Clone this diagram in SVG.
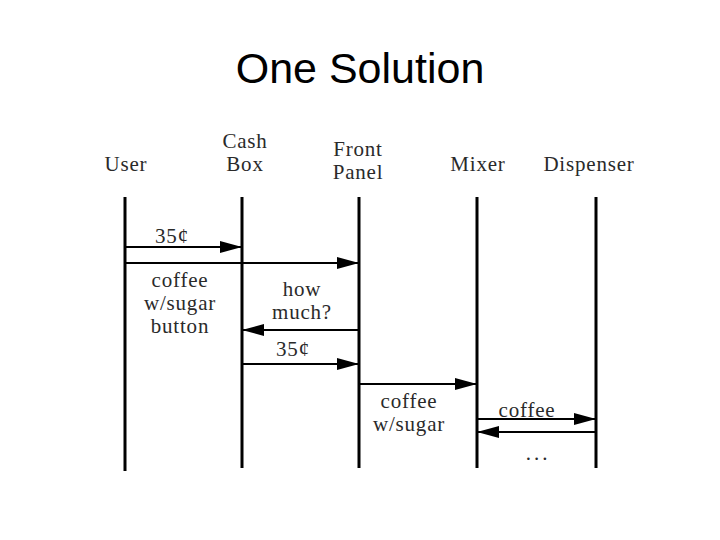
<svg xmlns="http://www.w3.org/2000/svg" width="720" height="540" viewBox="0 0 720 540">
<style>
.t{font-family:"Liberation Serif","Times New Roman",serif;font-size:21px;fill:#2a2a2a;text-anchor:middle;letter-spacing:0.8px}
.title{font-family:"Liberation Sans",Arial,sans-serif;font-size:43px;fill:#000;text-anchor:middle}
.life{stroke:#000;stroke-width:3;fill:none}
.msg{stroke:#000;stroke-width:2;fill:none;marker-end:url(#ah)}
</style>
<defs>
<marker id="ah" markerUnits="userSpaceOnUse" markerWidth="24" markerHeight="14" refX="22" refY="7" orient="auto">
<path d="M0,1 L22,7 L0,13 Z" fill="#000"/>
</marker>
</defs>
<rect width="720" height="540" fill="#fff"/>
<text class="title" x="360" y="83">One Solution</text>
<g id="user"><text class="t" x="126" y="171">User</text><line class="life" x1="125" y1="197" x2="125" y2="471"/></g>
<g id="cashbox"><text class="t" x="245" y="148">Cash</text><text class="t" x="245" y="171">Box</text><line class="life" x1="242" y1="197" x2="242" y2="468"/></g>
<g id="frontpanel"><text class="t" x="358" y="156">Front</text><text class="t" x="358" y="179">Panel</text><line class="life" x1="359" y1="197" x2="359" y2="468"/></g>
<g id="mixer"><text class="t" x="478" y="171">Mixer</text><line class="life" x1="477" y1="197" x2="477" y2="468"/></g>
<g id="dispenser"><text class="t" x="589" y="171">Dispenser</text><line class="life" x1="596" y1="197" x2="596" y2="468"/></g>
<g id="connectors">
<line class="msg" x1="125" y1="247" x2="242" y2="247"/>
<text class="t" x="172" y="243">35¢</text>
<line class="msg" x1="125" y1="263" x2="359" y2="263"/>
<text class="t" x="180" y="287">coffee</text>
<text class="t" x="180" y="310">w/sugar</text>
<text class="t" x="180" y="333">button</text>
<line class="msg" x1="359" y1="330" x2="242" y2="330"/>
<text class="t" x="302" y="296">how</text>
<text class="t" x="302" y="319">much?</text>
<line class="msg" x1="242" y1="364" x2="359" y2="364"/>
<text class="t" x="293" y="356">35¢</text>
<line class="msg" x1="359" y1="384" x2="477" y2="384"/>
<text class="t" x="409" y="408">coffee</text>
<text class="t" x="409" y="431">w/sugar</text>
<line class="msg" x1="477" y1="419" x2="596" y2="419"/>
<text class="t" x="527" y="417">coffee</text>
<line class="msg" x1="596" y1="432" x2="477" y2="432"/>
<text class="t" x="538" y="460" style="letter-spacing:3px">...</text>
</g>
</svg>
